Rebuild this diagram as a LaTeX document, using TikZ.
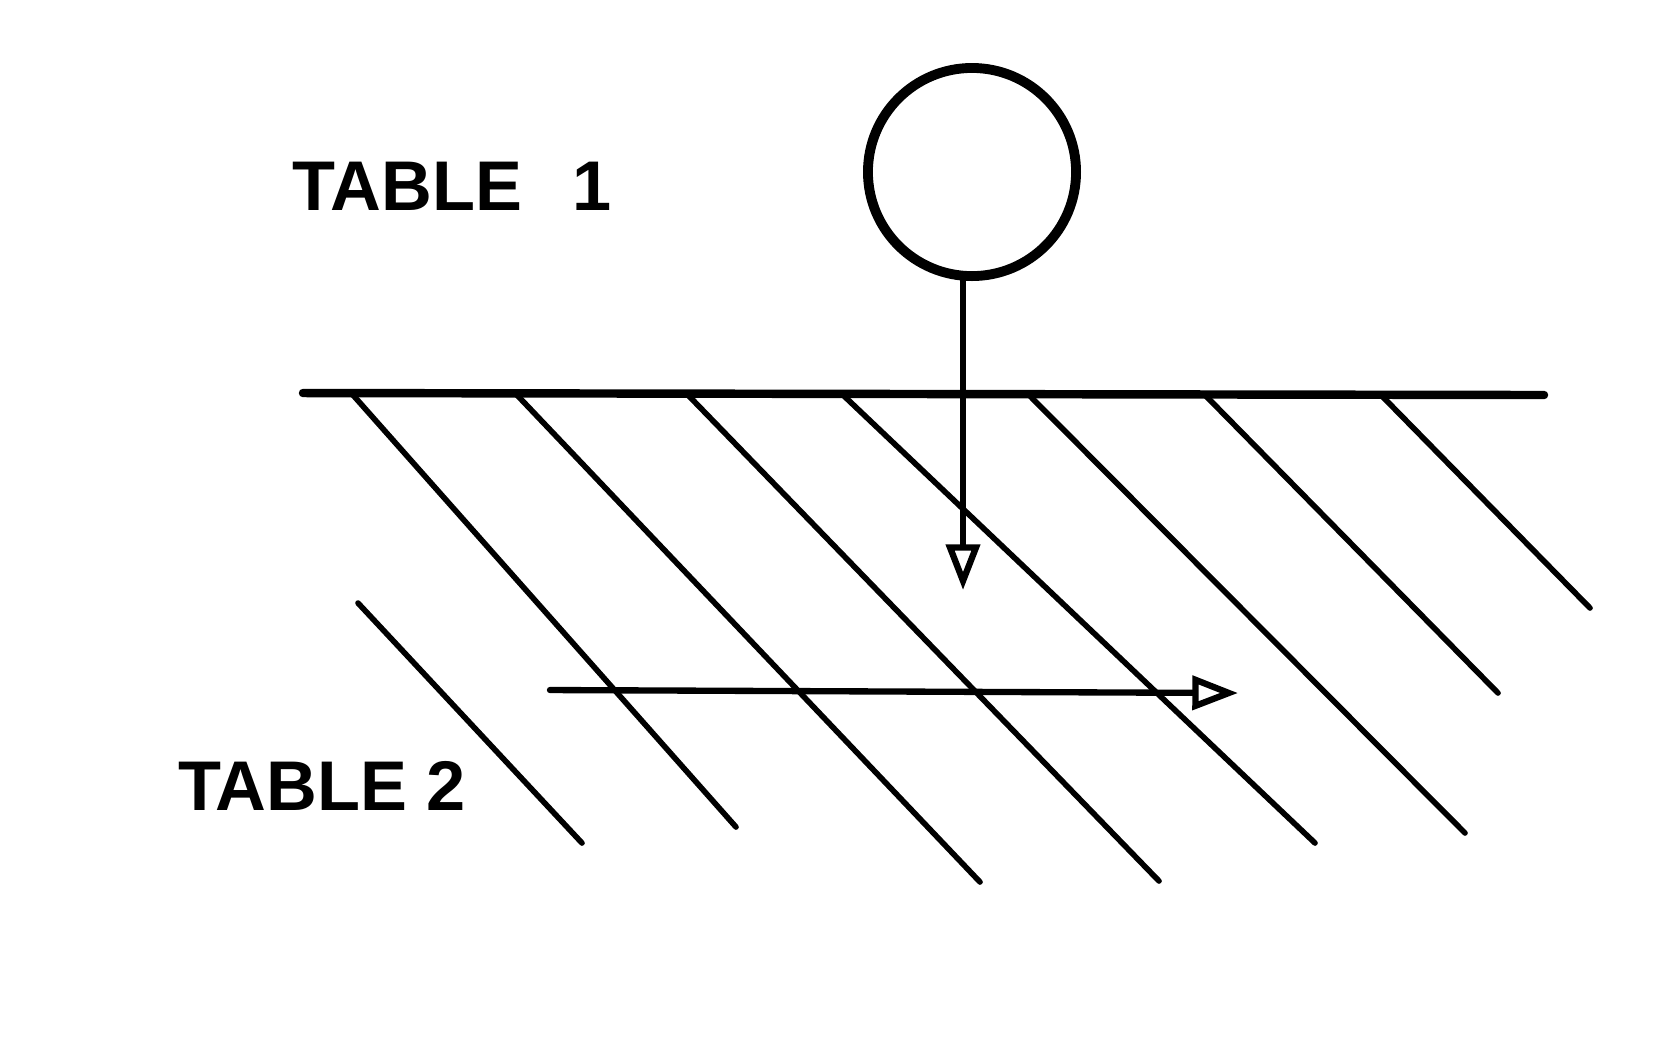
\documentclass[tikz,border=0pt]{standalone}
\usepackage{fontspec}
\setmainfont{Liberation Sans}
\usetikzlibrary{arrows.meta}
\tikzset{
  ball/.style={circle,draw,line width=2.8pt,minimum size=2.08cm,inner sep=0pt},
  surface/.style={line width=2.4pt,line cap=round},
  hatch/.style={line width=1.6pt,line cap=round},
  push/.style={-{Triangle[open,length=13pt,width=9.5pt]},line width=1.8pt,line cap=round},
  lbl/.style={font=\fontsize{20}{24}\selectfont\bfseries,inner sep=0pt},
}

\begin{document}
\begin{tikzpicture}[x=0.01cm,y=-0.01cm]
  \useasboundingbox (0,0) rectangle (1667,1053);
  % popisky stolů
  \node[lbl] (tab1) at (452,186) {TABLE\hspace{0.5cm}1};
  \node[lbl] (tab2) at (322,786) {TABLE 2};
  % koule nad deskou
  \node[ball] (ball) at (972,172) {};
  % hrana desky
  \coordinate (edgeL) at (303,393);
  \coordinate (edgeR) at (1544,395);
  \draw[surface] (edgeL) -- (edgeR);
  % šrafování (deska)
  \draw[hatch] (353,395) -- (736,827);
  \draw[hatch] (517,395) -- (980,882);
  \draw[hatch] (688,395) -- (1159,881);
  \draw[hatch] (843,395) -- (1315,843);
  \draw[hatch] (1029,395) -- (1465,833);
  \draw[hatch] (1205,395) -- (1498,693);
  \draw[hatch] (1381,395) -- (1590,608);
  \draw[hatch] (358,603) -- (582,843);
  % pohyb koule: dolů a po desce
  \coordinate (hit) at (963,590);
  \coordinate (drop) at (963,278);
  \draw[push] (drop) -- (hit);
  \coordinate (slideA) at (550,690);
  \coordinate (slideB) at (1238,693);
  \draw[push] (slideA) -- (slideB);
\end{tikzpicture}
\end{document}
